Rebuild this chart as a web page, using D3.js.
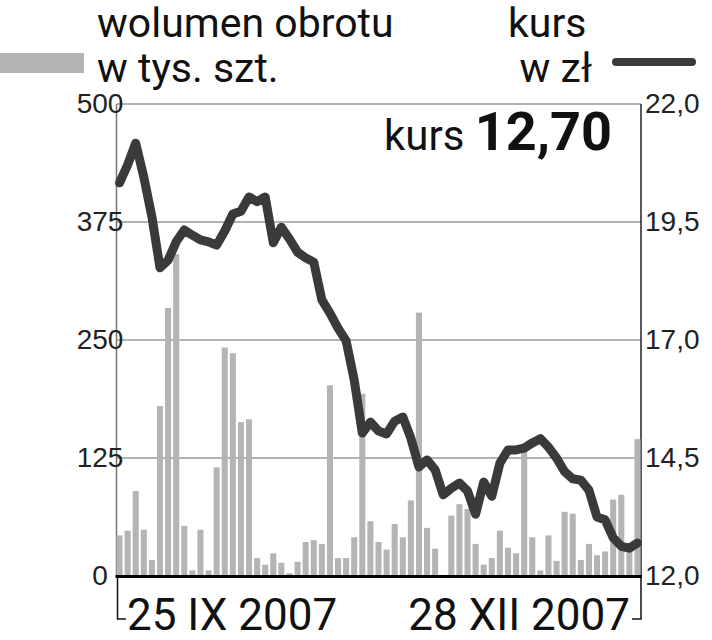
<!DOCTYPE html>
<meta charset="utf-8">
<style>
    body {
        margin: 0;
        padding: 0;
        background: #fff;
    }
    svg text {
        font-family: Roboto, "Liberation Sans", sans-serif;
        fill: #111;
    }
    .axis text {
        font-family: "Liberation Sans Narrow", "Liberation Sans", sans-serif;
        font-size: 28px;
        fill: #222;
    }
    .grid {
        stroke: #9a9a9a;
        stroke-width: 1.5;
    }
</style>

<body>

<script src="https://cdn.jsdelivr.net/npm/d3@7"></script>

<script>

// wolumen obrotu (tys. szt.), one bar per session
var volume = [43, 48, 90, 49, 17, 180, 284, 341, 53, 6,
              49, 6, 115, 242, 236, 163, 166, 19, 12, 24,
              14, 3, 15, 36, 38, 34, 202, 19, 19, 41,
              193, 58, 36, 28, 55, 41, 80, 279, 51, 29,
              0, 64, 76, 71, 34, 12, 19, 48, 30, 24,
              134, 41, 6, 43, 16, 68, 66, 17, 34, 22,
              26, 81, 86, 27, 145]

// kurs w zł
var price = [20.33, 20.71, 21.17, 20.45, 19.61, 18.53, 18.69, 19.08, 19.33, 19.22,
             19.12, 19.08, 19.01, 19.31, 19.67, 19.73, 20.03, 19.93, 20.03, 19.06,
             19.39, 19.14, 18.86, 18.74, 18.65, 17.85, 17.57, 17.25, 16.98, 16.15,
             15.03, 15.26, 15.07, 15.01, 15.28, 15.37, 14.92, 14.31, 14.46, 14.25,
             13.72, 13.86, 13.97, 13.80, 13.31, 13.99, 13.69, 14.39, 14.67, 14.67,
             14.71, 14.82, 14.91, 14.73, 14.50, 14.21, 14.06, 14.03, 13.82, 13.25,
             13.19, 12.81, 12.63, 12.59, 12.70]

var volTicks = [0, 125, 250, 375, 500]
var priceTicks = [12, 14.5, 17, 19.5, 22]
var dateLabels = ["25 IX 2007", "28 XII 2007"]

var width = 712,
  height = 640

var pLeft = 116.5, pRight = 641, pTop = 104, pBottom = 576

var svg = d3.select("body").append("svg")
    .attr("width", width)
    .attr("height", height)

var x = d3.scaleBand()
    .domain(d3.range(volume.length))
    .range([pLeft, pRight - 0.5])
    .paddingInner(0.25)
    .paddingOuter(0)

var yVol = d3.scaleLinear().domain([0, 500]).range([pBottom, pTop])
var yPrice = d3.scaleLinear().domain([12, 22]).range([pBottom, pTop])

// grid + frame
svg.append("g")
  .selectAll("line")
  .data(volTicks.slice(1))
  .join("line")
    .attr("class", "grid")
    .attr("x1", pLeft)
    .attr("x2", pRight)
    .attr("y1", d => yVol(d))
    .attr("y2", d => yVol(d))

svg.append("line")
    .attr("x1", pLeft).attr("x2", pLeft)
    .attr("y1", pTop).attr("y2", pBottom)
    .attr("stroke", "#777").attr("stroke-width", 1.5)

svg.append("line")
    .attr("x1", pRight).attr("x2", pRight)
    .attr("y1", pTop).attr("y2", pBottom)
    .attr("stroke", "#222").attr("stroke-width", 1.5)

// bars
svg.append("g")
  .selectAll("rect")
  .data(volume)
  .join("rect")
    .attr("x", (d, i) => x(i))
    .attr("width", x.bandwidth())
    .attr("y", d => yVol(d))
    .attr("height", d => pBottom - yVol(d))
    .attr("fill", "#b4b4b4")

// price line
var line = d3.line()
    .x((d, i) => x(i) + x.bandwidth() / 2)
    .y(d => yPrice(d))

svg.append("path")
    .attr("d", line(price))
    .attr("fill", "none")
    .attr("stroke", "#3a3a3a")
    .attr("stroke-width", 9)
    .attr("stroke-linejoin", "round")
    .attr("stroke-linecap", "round")

// baseline + brackets
svg.append("path")
    .attr("d", "M" + (pLeft + 1) + "," + (pBottom + 1) + "V619H126")
    .attr("fill", "none").attr("stroke", "#111").attr("stroke-width", 1.5)
svg.append("path")
    .attr("d", "M" + pRight + "," + (pBottom + 1) + "V619H632")
    .attr("fill", "none").attr("stroke", "#111").attr("stroke-width", 1.5)
svg.append("line")
    .attr("x1", pLeft - 1).attr("x2", pRight + 1)
    .attr("y1", pBottom + 0.5).attr("y2", pBottom + 0.5)
    .attr("stroke", "#000").attr("stroke-width", 3)

// axes
var axL = svg.append("g")
    .attr("class", "axis")
    .attr("transform", "translate(100,0)")
    .call(d3.axisLeft(yVol).tickValues(volTicks).tickSize(0).tickPadding(0))
axL.select(".domain").remove()
axL.selectAll("text").attr("text-anchor", "middle").attr("x", 0)

var axR = svg.append("g")
    .attr("class", "axis")
    .attr("transform", "translate(645,0)")
    .call(d3.axisRight(yPrice).tickValues(priceTicks).tickSize(0).tickPadding(0)
      .tickFormat(d => d3.format(".1f")(d).replace(".", ",")))
axR.select(".domain").remove()

// date labels
svg.append("text")
    .attr("x", 127).attr("y", 630)
    .attr("font-size", 44)
    .text(dateLabels[0])
svg.append("text")
    .attr("x", 630).attr("y", 630)
    .attr("text-anchor", "end")
    .attr("font-size", 44)
    .text(dateLabels[1])

// current price
var cur = svg.append("text")
    .attr("x", 612).attr("y", 150)
    .attr("text-anchor", "end")
cur.append("tspan").attr("font-size", 42).text("kurs ")
cur.append("tspan").attr("font-size", 54).attr("font-weight", "bold")
    .text(d3.format(".2f")(price[price.length - 1]).replace(".", ","))

// legend
svg.append("rect")
    .attr("x", 0).attr("y", 53).attr("width", 84).attr("height", 20)
    .attr("fill", "#b4b4b4")
svg.append("text").attr("x", 97).attr("y", 37).attr("font-size", 41).text("wolumen obrotu")
svg.append("text").attr("x", 97).attr("y", 82).attr("font-size", 41).text("w tys. szt.")

svg.append("line")
    .attr("x1", 616).attr("x2", 692).attr("y1", 62).attr("y2", 62)
    .attr("stroke", "#3a3a3a").attr("stroke-width", 8).attr("stroke-linecap", "round")
svg.append("text").attr("x", 508).attr("y", 37).attr("font-size", 41).text("kurs")
svg.append("text").attr("x", 592).attr("y", 82).attr("text-anchor", "end")
    .attr("font-size", 41).text("w zł")

</script>
